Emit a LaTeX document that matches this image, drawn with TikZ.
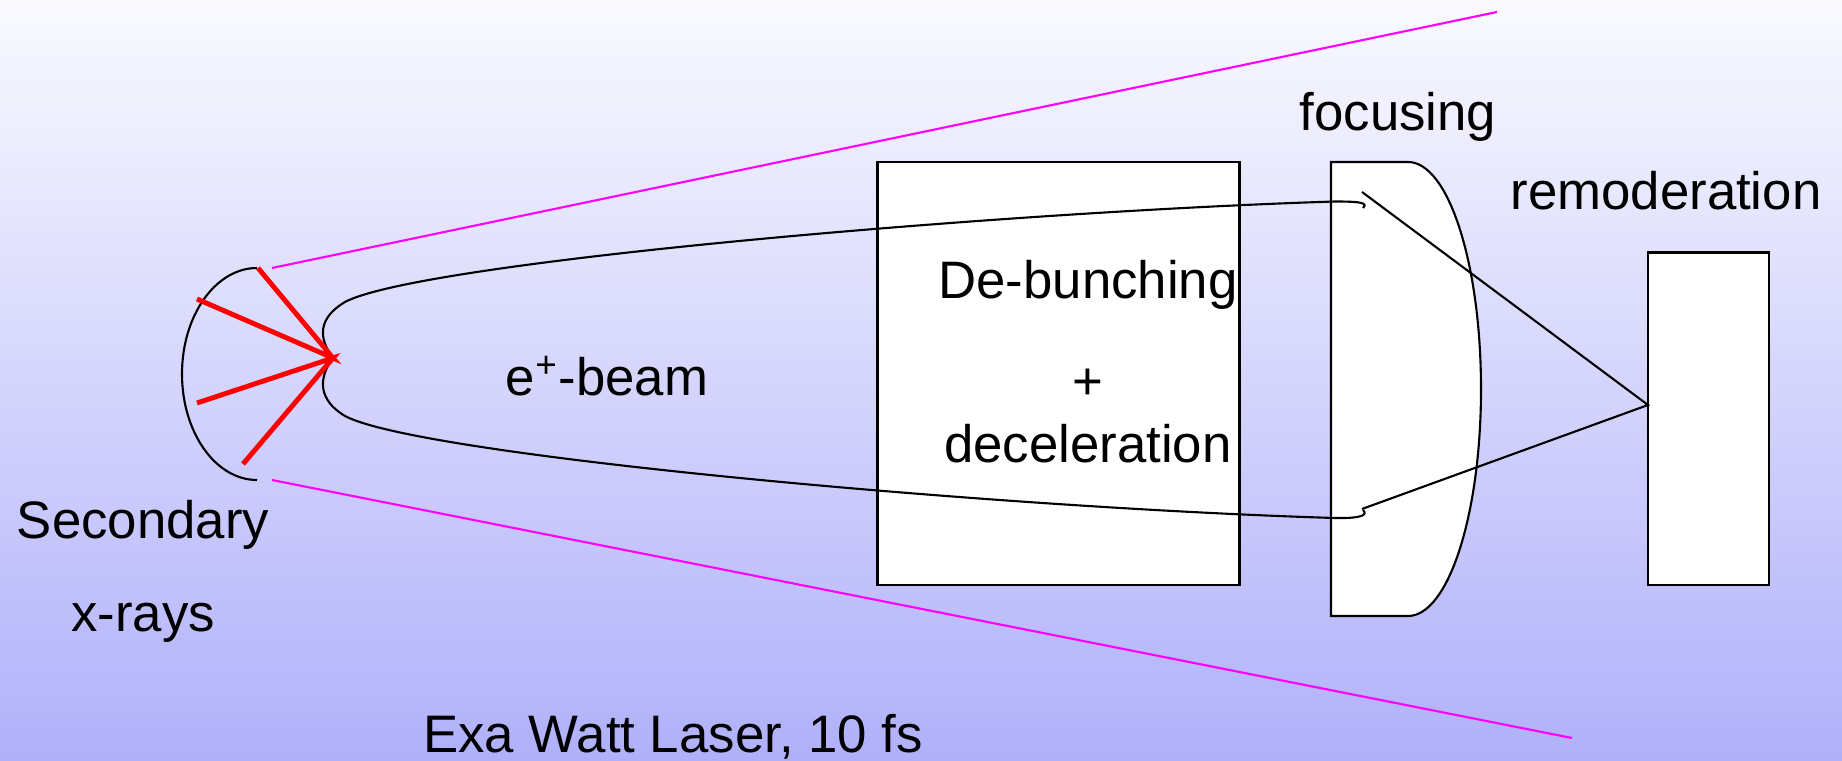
\documentclass[tikz,border=0pt]{standalone}
\usepackage{fontspec}
\setmainfont{Liberation Sans}
\begin{document}
\begin{tikzpicture}[x=0.01cm,y=-0.01cm,
  lbl/.style={font=\fontsize{15}{18}\selectfont, inner sep=0pt, text=black},
  blk/.style={draw=black, line width=0.6pt},
  boxw/.style={draw=black, line width=0.6pt, fill=white},
  laser/.style={draw=lasermag, line width=0.6pt},
  ray/.style={draw=red, line width=1.4pt}]
\definecolor{bgtop}{RGB}{250,250,255}
\definecolor{bgbot}{RGB}{176,176,250}
\definecolor{lasermag}{RGB}{255,0,255}
\useasboundingbox (0,0) rectangle (1842,761);
\shade[top color=bgtop, bottom color=bgbot] (0,0) rectangle (1842,761);

% laser cone
\coordinate (lu1) at (272,268);
\coordinate (lu2) at (1497,12);
\coordinate (ll1) at (272,480);
\coordinate (ll2) at (1572,738);
\draw[laser] (lu1) -- (lu2);
\draw[laser] (ll1) -- (ll2);

% secondary x-ray target (half ellipse)
\draw[blk] (257,268) .. controls (215.6,268) and (182,315.5) .. (182,374)
  .. controls (182,432.5) and (215.6,480) .. (257,480);

% boxes
\path[boxw] (877.5,162) rectangle (1239.5,585);
\path[boxw] (1331,162) -- (1408,162) .. controls (1448.3,162) and (1481,263.6) .. (1481,389)
  .. controls (1481,514.4) and (1448.3,616) .. (1408,616) -- (1331,616) -- cycle;
\path[boxw] (1648,252.5) rectangle (1769,585);

% beam hairpin
\coordinate (tip) at (333,358);
\coordinate (hu) at (1363,208);
\coordinate (hl) at (1363,510);
\draw[blk] (hu) .. controls (1368,203) and (1362,201.5) .. (1335,201.5)
  .. controls (1000,212) and (420,262) .. (345,302)
  .. controls (318,318) and (318,338) .. (tip)
  .. controls (318,378) and (318,400) .. (345,416)
  .. controls (420,456) and (1000,508) .. (1335,518)
  .. controls (1362,518.5) and (1368,515) .. (hl);

% focusing lines
\coordinate (fu) at (1362,192);
\coordinate (fl) at (1362,509);
\coordinate (foc) at (1648,405);
\draw[blk] (fu) -- (foc) -- (fl);

% red rays
\coordinate (r1) at (258,268);
\coordinate (r2) at (197,299);
\coordinate (r3) at (197,403);
\coordinate (r4) at (243,464);
\draw[ray] (r1) -- (tip) -- (r2);
\draw[ray] (r3) -- (tip) -- (r4);

% labels
\node[lbl] (tfoc) at (1398,117) {focusing};
\node[lbl] (trem) at (1666,191) {remoderation};
\node[lbl] (tdeb) at (1088,285) {De-bunching};
\node[lbl] (tplus) at (1088,384) {+};
\node[lbl] (tdec) at (1088,444) {deceleration};
\node[lbl] (tbeam) at (607,376) {e\textsuperscript{+}-beam};
\node[lbl] (tsec) at (143,525) {Secondary};
\node[lbl] (txr) at (143,623) {x-rays};
\node[lbl] (tlas) at (673,737) {Exa Watt Laser, 10 fs};
\end{tikzpicture}
\end{document}
